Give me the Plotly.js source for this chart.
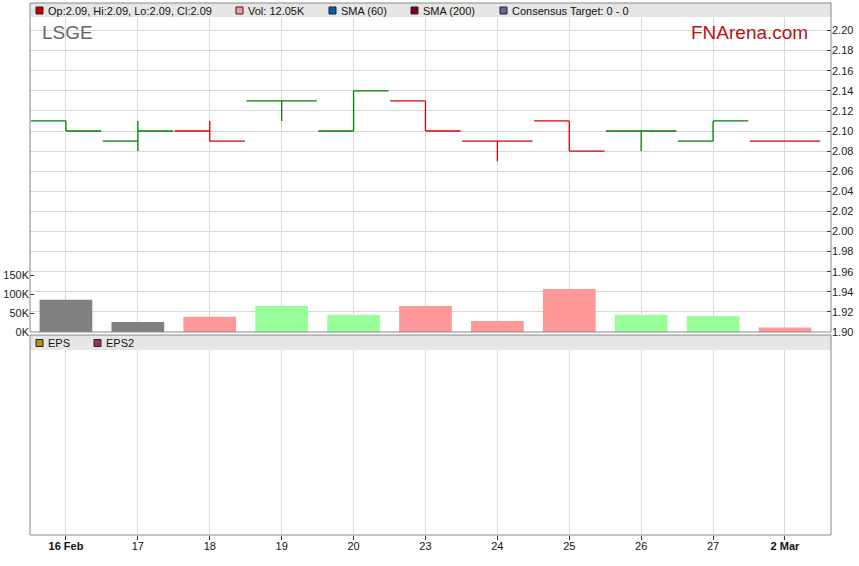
<!DOCTYPE html>
<html>
<head>
<meta charset="utf-8">
<script src="https://cdn.plot.ly/plotly-3.0.1.min.js"></script>
<style>html,body{margin:0;padding:0;background:#fff;}#chart{width:859px;height:566px;}</style>
</head>
<body>
<div id="chart"></div>
<script>
// ---- data ----
var dates  = ['16 Feb','17','18','19','20','23','24','25','26','27','2 Mar'];
var opens  = [2.11, 2.09, 2.10, 2.13, 2.10, 2.13, 2.09, 2.11, 2.10, 2.09, 2.09];
var highs  = [2.11, 2.11, 2.11, 2.13, 2.14, 2.13, 2.09, 2.11, 2.10, 2.11, 2.09];
var lows   = [2.10, 2.08, 2.09, 2.11, 2.10, 2.10, 2.07, 2.08, 2.08, 2.09, 2.09];
var closes = [2.10, 2.10, 2.09, 2.13, 2.14, 2.10, 2.09, 2.08, 2.10, 2.11, 2.09];
var volumes = [85000, 26500, 40000, 69000, 45000, 69000, 29000, 114000, 45000, 42000, 12050];
var priceTicks = [1.90,1.92,1.94,1.96,1.98,2.00,2.02,2.04,2.06,2.08,2.10,2.12,2.14,2.16,2.18,2.20];
var volTicks = [0, 50000, 100000, 150000];
var volTickText = ['0K','50K','100K','150K'];
var ticker = 'LSGE';
var brand = 'FNArena.com';

// ---- layout helpers (pixel -> paper) ----
var L = 30, R = 831, T = 3, B = 535;
function px(x){ return (x - L) / (R - L); }
function py(y){ return (B - y) / (B - T); }

var idx = dates.map(function(d,i){ return i; });
var up = {x:[],o:[],h:[],l:[],c:[]}, dn = {x:[],o:[],h:[],l:[],c:[]};
var volColors = [];
for (var i = 0; i < dates.length; i++) {
  var prev = i > 0 ? closes[i-1] : null;
  var g = (prev === null || closes[i] >= prev) ? up : dn;
  g.x.push(i); g.o.push(opens[i]); g.h.push(highs[i]); g.l.push(lows[i]); g.c.push(closes[i]);
  if (prev === null || closes[i] === prev) volColors.push('#808080');
  else if (closes[i] > prev) volColors.push('#99ff99');
  else volColors.push('#ff9999');
}

function ohlcTrace(g, col){
  return {type:'ohlc', x:g.x, open:g.o, high:g.h, low:g.l, close:g.c,
    xaxis:'x', yaxis:'y', tickwidth:0.49, hoverinfo:'skip',
    increasing:{line:{color:col, width:1.3}}, decreasing:{line:{color:col, width:1.3}}, showlegend:false};
}

var traces = [
  {type:'bar', x:idx, y:volumes, xaxis:'x', yaxis:'y2', marker:{color:volColors, line:{width:0}}, hoverinfo:'skip', showlegend:false},
  ohlcTrace(up, '#008000'),
  ohlcTrace(dn, '#dd0000'),
  {type:'scatter', x:[], y:[], xaxis:'x', yaxis:'y3', showlegend:false}
];

var n = dates.length;
var last = n - 1;
var font = 'Liberation Sans, Arial, sans-serif';

var shapes = [
  {type:'rect', xref:'paper', yref:'paper', x0:0, x1:1, y0:py(17), y1:py(3), fillcolor:'#e6e6e6', line:{width:0}, layer:'above'},
  {type:'rect', xref:'paper', yref:'paper', x0:0, x1:1, y0:py(350), y1:py(335), fillcolor:'#e6e6e6', line:{width:0}, layer:'above'},
  {type:'rect', xref:'paper', yref:'paper', x0:0, x1:1, y0:py(332), y1:py(3), line:{color:'#888888', width:1}, layer:'above'},
  {type:'rect', xref:'paper', yref:'paper', x0:0, x1:1, y0:py(535), y1:py(335), line:{color:'#888888', width:1}, layer:'above'}
];
var annotations = [];
function legendItem(x, yc, color, text){
  shapes.push({type:'rect', xref:'paper', yref:'paper', x0:px(x), x1:px(x+7), y0:py(yc+3.5), y1:py(yc-3.5),
    fillcolor:color, line:{color:'#222222', width:1}, layer:'above'});
  annotations.push({xref:'paper', yref:'paper', x:px(x+10), y:py(yc), xanchor:'left', yanchor:'middle',
    text:text, showarrow:false, font:{family:font, size:11, color:'#111111'}});
}
legendItem(36, 10.5, '#cc0000', 'Op:' + opens[last].toFixed(2) + ', Hi:' + highs[last].toFixed(2) + ', Lo:' + lows[last].toFixed(2) + ', Cl:' + closes[last].toFixed(2));
legendItem(236, 10.5, '#ff9999', 'Vol: ' + (volumes[last]/1000).toFixed(2) + 'K');
legendItem(329, 10.5, '#0060a8', 'SMA (60)');
legendItem(411, 10.5, '#800020', 'SMA (200)');
legendItem(500, 10.5, '#666699', 'Consensus Target: 0 - 0');
legendItem(36, 343, '#b8960b', 'EPS');
legendItem(94, 343, '#993366', 'EPS2');

annotations.push({xref:'paper', yref:'paper', x:px(40), y:py(32), xanchor:'left', yanchor:'middle',
  text:ticker, showarrow:false, font:{family:font, size:19, color:'#666666'}});
annotations.push({xref:'paper', yref:'paper', x:px(689), y:py(32), xanchor:'left', yanchor:'middle',
  text:brand, showarrow:false, font:{family:font, size:19, color:'#bb1111'}});

var tickText = dates.map(function(d){ return /[A-Za-z]/.test(d) ? '<b>' + d + '</b>' : d; });

var layout = {
  width:859, height:566,
  margin:{l:L, r:859-R, t:T, b:566-B, pad:0},
  paper_bgcolor:'#ffffff', plot_bgcolor:'#ffffff',
  showlegend:false, bargap:0.267,
  font:{family:font, size:11, color:'#222222'},
  xaxis:{anchor:'y3', range:[-0.5, 10.64], tickvals:idx, ticktext:tickText,
    showgrid:true, gridcolor:'#d9d9d9', gridwidth:1, zeroline:false,
    showline:false, ticks:'outside', ticklen:4, tickcolor:'#333333', ticklabelstandoff:-3,
    tickfont:{family:font, size:11, color:'#111111'}, rangeslider:{visible:false}, fixedrange:true},
  yaxis:{domain:[py(332), 1], range:[1.90, 2.2274], side:'right', anchor:'x',
    tickvals:priceTicks, tickformat:'.2f', showgrid:true, gridcolor:'#d9d9d9', gridwidth:1,
    zeroline:false, showline:false, ticks:'inside', ticklen:4, tickcolor:'#333333',
    tickfont:{family:font, size:11, color:'#222222'}},
  yaxis2:{overlaying:'y', side:'left', anchor:'x', range:[0, 870000],
    tickvals:volTicks, ticktext:volTickText, showgrid:false, zeroline:false, showline:false,
    ticks:'inside', ticklen:4, tickcolor:'#333333', tickfont:{family:font, size:11, color:'#222222'}},
  yaxis3:{domain:[0, py(335)], anchor:'x', range:[0,1], showgrid:false, zeroline:false,
    showticklabels:false, ticks:'', showline:false},
  shapes:shapes,
  annotations:annotations
};

Plotly.newPlot('chart', traces, layout, {staticPlot:true, displayModeBar:false});
</script>
</body>
</html>
